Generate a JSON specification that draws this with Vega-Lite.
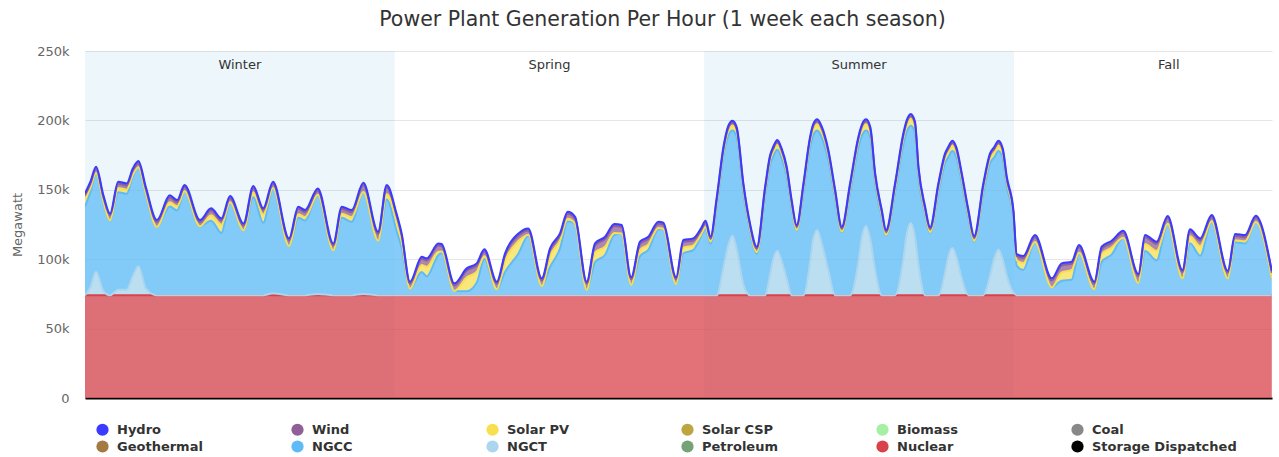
{
  "$schema": "https://vega.github.io/schema/vega-lite/v6.json",
  "width": 1187,
  "height": 347,
  "autosize": {"type": "none"},
  "padding": {"left": 85, "top": 51, "right": 7, "bottom": 59},
  "background": "white",
  "config": {"view": {"stroke": null}, "font": "DejaVu Sans"},
  "title": {"text": "Power Plant Generation Per Hour (1 week each season)", "fontSize": 20.5, "font": "DejaVu Sans", "fontWeight": "normal", "color": "#333333", "anchor": "middle", "frame": "group", "offset": 15, "dx": -16},
  "datasets": {
    "order": [
      {"series": "Nuclear", "rank": 1},
      {"series": "NGCT", "rank": 2},
      {"series": "NGCC", "rank": 3},
      {"series": "Solar PV", "rank": 4},
      {"series": "Wind", "rank": 5},
      {"series": "Hydro", "rank": 6}
    ],
    "seasons": [
      {"season": "Winter", "start": 0, "end": 168, "mid": 84, "shade": 1},
      {"season": "Spring", "start": 168, "end": 336, "mid": 252, "shade": 0},
      {"season": "Summer", "start": 336, "end": 504, "mid": 420, "shade": 1},
      {"season": "Fall", "start": 504, "end": 672, "mid": 588, "shade": 0}
    ],
    "gen": [
      {"h": 0, "Nuclear": 74000, "NGCT": 0, "NGCC": 64000, "Solar PV": 5000, "Wind": 3000, "Hydro": 1500},
      {"h": 3, "Nuclear": 74000, "NGCT": 6000, "NGCC": 68500, "Solar PV": 3000, "Wind": 3000, "Hydro": 1500},
      {"h": 6, "Nuclear": 74000, "NGCT": 17000, "NGCC": 70600, "Solar PV": 500, "Wind": 3000, "Hydro": 1500},
      {"h": 10, "Nuclear": 74000, "NGCT": 3000, "NGCC": 64500, "Solar PV": 0, "Wind": 3000, "Hydro": 1500},
      {"h": 13.6, "Nuclear": 74000, "NGCT": 0, "NGCC": 54000, "Solar PV": 0, "Wind": 3500, "Hydro": 1500},
      {"h": 18, "Nuclear": 74000, "NGCT": 4000, "NGCC": 70300, "Solar PV": 3000, "Wind": 3000, "Hydro": 1500},
      {"h": 22.6, "Nuclear": 74000, "NGCT": 4000, "NGCC": 69100, "Solar PV": 3000, "Wind": 3000, "Hydro": 1500},
      {"h": 26, "Nuclear": 74000, "NGCT": 14000, "NGCC": 72000, "Solar PV": 1000, "Wind": 3000, "Hydro": 1500},
      {"h": 29, "Nuclear": 74000, "NGCT": 21000, "NGCC": 71200, "Solar PV": 0, "Wind": 3000, "Hydro": 1500},
      {"h": 33, "Nuclear": 74000, "NGCT": 5000, "NGCC": 68500, "Solar PV": 0, "Wind": 3000, "Hydro": 1500},
      {"h": 39, "Nuclear": 74000, "NGCT": 0, "NGCC": 49200, "Solar PV": 0, "Wind": 3500, "Hydro": 1500},
      {"h": 46, "Nuclear": 74000, "NGCT": 0, "NGCC": 64000, "Solar PV": 3000, "Wind": 3500, "Hydro": 1500},
      {"h": 50, "Nuclear": 74000, "NGCT": 0, "NGCC": 61100, "Solar PV": 3000, "Wind": 3000, "Hydro": 1500},
      {"h": 54, "Nuclear": 74000, "NGCT": 0, "NGCC": 75000, "Solar PV": 0, "Wind": 3000, "Hydro": 1500},
      {"h": 62.4, "Nuclear": 74000, "NGCT": 0, "NGCC": 49700, "Solar PV": 0, "Wind": 3000, "Hydro": 1500},
      {"h": 68.4, "Nuclear": 74000, "NGCT": 0, "NGCC": 53700, "Solar PV": 4000, "Wind": 3500, "Hydro": 1500},
      {"h": 74, "Nuclear": 74000, "NGCT": 0, "NGCC": 44900, "Solar PV": 6000, "Wind": 3000, "Hydro": 1500},
      {"h": 78.7, "Nuclear": 74000, "NGCT": 0, "NGCC": 67000, "Solar PV": 0, "Wind": 3000, "Hydro": 1500},
      {"h": 86, "Nuclear": 74000, "NGCT": 0, "NGCC": 46800, "Solar PV": 0, "Wind": 3500, "Hydro": 1500},
      {"h": 91.3, "Nuclear": 74000, "NGCT": 0, "NGCC": 70700, "Solar PV": 3500, "Wind": 3000, "Hydro": 1500},
      {"h": 96.7, "Nuclear": 74000, "NGCT": 0, "NGCC": 52200, "Solar PV": 6000, "Wind": 3000, "Hydro": 1500},
      {"h": 102, "Nuclear": 74000, "NGCT": 1500, "NGCC": 75800, "Solar PV": 0, "Wind": 3000, "Hydro": 1500},
      {"h": 110.7, "Nuclear": 74000, "NGCT": 0, "NGCC": 35500, "Solar PV": 0, "Wind": 4000, "Hydro": 1500},
      {"h": 115.7, "Nuclear": 74000, "NGCT": 0, "NGCC": 55800, "Solar PV": 2500, "Wind": 4000, "Hydro": 1500},
      {"h": 119.4, "Nuclear": 74000, "NGCT": 0, "NGCC": 53900, "Solar PV": 2500, "Wind": 3500, "Hydro": 1500},
      {"h": 126.3, "Nuclear": 74000, "NGCT": 1000, "NGCC": 71500, "Solar PV": 0, "Wind": 3000, "Hydro": 1500},
      {"h": 134.7, "Nuclear": 74000, "NGCT": 0, "NGCC": 32400, "Solar PV": 0, "Wind": 3500, "Hydro": 1500},
      {"h": 139.3, "Nuclear": 74000, "NGCT": 0, "NGCC": 55800, "Solar PV": 3000, "Wind": 3500, "Hydro": 1500},
      {"h": 144.7, "Nuclear": 74000, "NGCT": 0, "NGCC": 52900, "Solar PV": 3500, "Wind": 3500, "Hydro": 1500},
      {"h": 151, "Nuclear": 74000, "NGCT": 1000, "NGCC": 73500, "Solar PV": 0, "Wind": 5000, "Hydro": 1500},
      {"h": 159, "Nuclear": 74000, "NGCT": 0, "NGCC": 39300, "Solar PV": 0, "Wind": 5000, "Hydro": 1500},
      {"h": 163.7, "Nuclear": 74000, "NGCT": 0, "NGCC": 69000, "Solar PV": 4000, "Wind": 5000, "Hydro": 1500},
      {"h": 169, "Nuclear": 74000, "NGCT": 0, "NGCC": 46500, "Solar PV": 7000, "Wind": 4000, "Hydro": 1500},
      {"h": 171.8, "Nuclear": 74000, "NGCT": 0, "NGCC": 34100, "Solar PV": 5000, "Wind": 4000, "Hydro": 1500},
      {"h": 176.3, "Nuclear": 74000, "NGCT": 0, "NGCC": 4800, "Solar PV": 0, "Wind": 3500, "Hydro": 1500},
      {"h": 182.7, "Nuclear": 74000, "NGCT": 0, "NGCC": 16800, "Solar PV": 5000, "Wind": 4500, "Hydro": 1500},
      {"h": 185.4, "Nuclear": 74000, "NGCT": 0, "NGCC": 13600, "Solar PV": 7000, "Wind": 4500, "Hydro": 1500},
      {"h": 191.7, "Nuclear": 74000, "NGCT": 0, "NGCC": 28900, "Solar PV": 2500, "Wind": 4500, "Hydro": 1500},
      {"h": 193.5, "Nuclear": 74000, "NGCT": 0, "NGCC": 30500, "Solar PV": 1000, "Wind": 4000, "Hydro": 1500},
      {"h": 200.4, "Nuclear": 74000, "NGCT": 0, "NGCC": 3100, "Solar PV": 0, "Wind": 4000, "Hydro": 1500},
      {"h": 207.1, "Nuclear": 74000, "NGCT": 0, "NGCC": 2900, "Solar PV": 10000, "Wind": 5000, "Hydro": 1500},
      {"h": 212.5, "Nuclear": 74000, "NGCT": 0, "NGCC": 9000, "Solar PV": 8000, "Wind": 4500, "Hydro": 1500},
      {"h": 216.7, "Nuclear": 74000, "NGCT": 0, "NGCC": 26100, "Solar PV": 2000, "Wind": 3500, "Hydro": 1500},
      {"h": 223.4, "Nuclear": 74000, "NGCT": 0, "NGCC": 4300, "Solar PV": 0, "Wind": 4000, "Hydro": 1500},
      {"h": 227.9, "Nuclear": 74000, "NGCT": 0, "NGCC": 16700, "Solar PV": 8000, "Wind": 4000, "Hydro": 1500},
      {"h": 235.2, "Nuclear": 74000, "NGCT": 0, "NGCC": 30100, "Solar PV": 9000, "Wind": 4000, "Hydro": 1500},
      {"h": 240.5, "Nuclear": 74000, "NGCT": 0, "NGCC": 42700, "Solar PV": 1000, "Wind": 3000, "Hydro": 1500},
      {"h": 247.8, "Nuclear": 74000, "NGCT": 0, "NGCC": 6700, "Solar PV": 0, "Wind": 4000, "Hydro": 1500},
      {"h": 252.3, "Nuclear": 74000, "NGCT": 0, "NGCC": 20300, "Solar PV": 8000, "Wind": 4000, "Hydro": 1500},
      {"h": 257.7, "Nuclear": 74000, "NGCT": 0, "NGCC": 33600, "Solar PV": 6000, "Wind": 3500, "Hydro": 1500},
      {"h": 261.9, "Nuclear": 74000, "NGCT": 0, "NGCC": 53200, "Solar PV": 2000, "Wind": 3500, "Hydro": 1500},
      {"h": 265.9, "Nuclear": 74000, "NGCT": 0, "NGCC": 51600, "Solar PV": 0, "Wind": 3500, "Hydro": 1500},
      {"h": 272.2, "Nuclear": 74000, "NGCT": 0, "NGCC": 3800, "Solar PV": 0, "Wind": 4500, "Hydro": 1500},
      {"h": 276.7, "Nuclear": 74000, "NGCT": 0, "NGCC": 23900, "Solar PV": 7000, "Wind": 5000, "Hydro": 1500},
      {"h": 282.2, "Nuclear": 74000, "NGCT": 0, "NGCC": 29200, "Solar PV": 6000, "Wind": 5500, "Hydro": 1500},
      {"h": 287.2, "Nuclear": 74000, "NGCT": 0, "NGCC": 43400, "Solar PV": 1500, "Wind": 5000, "Hydro": 1500},
      {"h": 291.2, "Nuclear": 74000, "NGCT": 0, "NGCC": 44600, "Solar PV": 0, "Wind": 4500, "Hydro": 1500},
      {"h": 296.3, "Nuclear": 74000, "NGCT": 0, "NGCC": 7500, "Solar PV": 0, "Wind": 4000, "Hydro": 1500},
      {"h": 301.1, "Nuclear": 74000, "NGCT": 0, "NGCC": 28100, "Solar PV": 4500, "Wind": 4500, "Hydro": 1500},
      {"h": 305.6, "Nuclear": 74000, "NGCT": 0, "NGCC": 32700, "Solar PV": 4000, "Wind": 4000, "Hydro": 1500},
      {"h": 311.1, "Nuclear": 74000, "NGCT": 0, "NGCC": 47500, "Solar PV": 1000, "Wind": 3000, "Hydro": 1500},
      {"h": 313.8, "Nuclear": 74000, "NGCT": 0, "NGCC": 47800, "Solar PV": 0, "Wind": 3000, "Hydro": 1500},
      {"h": 320.7, "Nuclear": 74000, "NGCT": 0, "NGCC": 8000, "Solar PV": 0, "Wind": 3500, "Hydro": 1500},
      {"h": 324.6, "Nuclear": 74000, "NGCT": 0, "NGCC": 30300, "Solar PV": 4000, "Wind": 4000, "Hydro": 1500},
      {"h": 330, "Nuclear": 74000, "NGCT": 0, "NGCC": 32500, "Solar PV": 3500, "Wind": 3500, "Hydro": 1500},
      {"h": 334.2, "Nuclear": 74000, "NGCT": 0, "NGCC": 42200, "Solar PV": 1500, "Wind": 3000, "Hydro": 1500},
      {"h": 336.7, "Nuclear": 74000, "NGCT": 0, "NGCC": 47700, "Solar PV": 1500, "Wind": 3000, "Hydro": 1500},
      {"h": 339.4, "Nuclear": 74000, "NGCT": 0, "NGCC": 37200, "Solar PV": 1500, "Wind": 2000, "Hydro": 1500},
      {"h": 342.8, "Nuclear": 74000, "NGCT": 0, "NGCC": 65000, "Solar PV": 2500, "Wind": 2000, "Hydro": 1500},
      {"h": 346.4, "Nuclear": 74000, "NGCT": 20000, "NGCC": 80500, "Solar PV": 3000, "Wind": 2000, "Hydro": 1500},
      {"h": 349, "Nuclear": 74000, "NGCT": 36000, "NGCC": 79000, "Solar PV": 3500, "Wind": 2000, "Hydro": 1500},
      {"h": 351.3, "Nuclear": 74000, "NGCT": 43000, "NGCC": 75800, "Solar PV": 3500, "Wind": 2000, "Hydro": 1500},
      {"h": 353.6, "Nuclear": 74000, "NGCT": 33000, "NGCC": 81000, "Solar PV": 3500, "Wind": 2000, "Hydro": 1500},
      {"h": 357.2, "Nuclear": 74000, "NGCT": 8000, "NGCC": 66200, "Solar PV": 3000, "Wind": 2000, "Hydro": 1500},
      {"h": 360.8, "Nuclear": 74000, "NGCT": 0, "NGCC": 46800, "Solar PV": 1500, "Wind": 2000, "Hydro": 1500},
      {"h": 364.5, "Nuclear": 74000, "NGCT": 0, "NGCC": 30000, "Solar PV": 1000, "Wind": 2500, "Hydro": 1500},
      {"h": 369, "Nuclear": 74000, "NGCT": 0, "NGCC": 71700, "Solar PV": 3000, "Wind": 2000, "Hydro": 1500},
      {"h": 371.7, "Nuclear": 74000, "NGCT": 15000, "NGCC": 79000, "Solar PV": 3500, "Wind": 2000, "Hydro": 1500},
      {"h": 373.4, "Nuclear": 74000, "NGCT": 26000, "NGCC": 74000, "Solar PV": 3500, "Wind": 2000, "Hydro": 1500},
      {"h": 375.6, "Nuclear": 74000, "NGCT": 32000, "NGCC": 72900, "Solar PV": 3500, "Wind": 2000, "Hydro": 1500},
      {"h": 377.9, "Nuclear": 74000, "NGCT": 25000, "NGCC": 74000, "Solar PV": 3500, "Wind": 2000, "Hydro": 1500},
      {"h": 380.7, "Nuclear": 74000, "NGCT": 12000, "NGCC": 74100, "Solar PV": 3000, "Wind": 2000, "Hydro": 1500},
      {"h": 383.4, "Nuclear": 74000, "NGCT": 0, "NGCC": 63100, "Solar PV": 2000, "Wind": 2000, "Hydro": 1500},
      {"h": 386.1, "Nuclear": 74000, "NGCT": 0, "NGCC": 46600, "Solar PV": 500, "Wind": 2000, "Hydro": 1500},
      {"h": 389.8, "Nuclear": 74000, "NGCT": 0, "NGCC": 74200, "Solar PV": 3000, "Wind": 2000, "Hydro": 1500},
      {"h": 393.4, "Nuclear": 74000, "NGCT": 24000, "NGCC": 82800, "Solar PV": 4000, "Wind": 2000, "Hydro": 1500},
      {"h": 395, "Nuclear": 74000, "NGCT": 40000, "NGCC": 75000, "Solar PV": 4500, "Wind": 2000, "Hydro": 1500},
      {"h": 397.3, "Nuclear": 74000, "NGCT": 47000, "NGCC": 71800, "Solar PV": 4500, "Wind": 2000, "Hydro": 1500},
      {"h": 399.6, "Nuclear": 74000, "NGCT": 38000, "NGCC": 76000, "Solar PV": 4500, "Wind": 2000, "Hydro": 1500},
      {"h": 403.3, "Nuclear": 74000, "NGCT": 18000, "NGCC": 79700, "Solar PV": 3500, "Wind": 2000, "Hydro": 1500},
      {"h": 407, "Nuclear": 74000, "NGCT": 0, "NGCC": 69900, "Solar PV": 2500, "Wind": 2000, "Hydro": 1500},
      {"h": 410.6, "Nuclear": 74000, "NGCT": 0, "NGCC": 45400, "Solar PV": 500, "Wind": 2000, "Hydro": 1500},
      {"h": 415.1, "Nuclear": 74000, "NGCT": 0, "NGCC": 74200, "Solar PV": 3000, "Wind": 2000, "Hydro": 1500},
      {"h": 419.6, "Nuclear": 74000, "NGCT": 24000, "NGCC": 82800, "Solar PV": 4000, "Wind": 2000, "Hydro": 1500},
      {"h": 421.5, "Nuclear": 74000, "NGCT": 42000, "NGCC": 73000, "Solar PV": 4500, "Wind": 2000, "Hydro": 1500},
      {"h": 423.8, "Nuclear": 74000, "NGCT": 50000, "NGCC": 68800, "Solar PV": 4500, "Wind": 2000, "Hydro": 1500},
      {"h": 426.1, "Nuclear": 74000, "NGCT": 40000, "NGCC": 73500, "Solar PV": 4000, "Wind": 2000, "Hydro": 1500},
      {"h": 428.7, "Nuclear": 74000, "NGCT": 18000, "NGCC": 62800, "Solar PV": 3500, "Wind": 2000, "Hydro": 1500},
      {"h": 432.3, "Nuclear": 74000, "NGCT": 0, "NGCC": 55900, "Solar PV": 2000, "Wind": 2000, "Hydro": 1500},
      {"h": 434.6, "Nuclear": 74000, "NGCT": 0, "NGCC": 43000, "Solar PV": 500, "Wind": 2000, "Hydro": 1500},
      {"h": 439.5, "Nuclear": 74000, "NGCT": 0, "NGCC": 74200, "Solar PV": 3000, "Wind": 2000, "Hydro": 1500},
      {"h": 444, "Nuclear": 74000, "NGCT": 26000, "NGCC": 82700, "Solar PV": 4500, "Wind": 2000, "Hydro": 1500},
      {"h": 445.8, "Nuclear": 74000, "NGCT": 44000, "NGCC": 73500, "Solar PV": 5000, "Wind": 2000, "Hydro": 1500},
      {"h": 448, "Nuclear": 74000, "NGCT": 52000, "NGCC": 70100, "Solar PV": 5000, "Wind": 2000, "Hydro": 1500},
      {"h": 450.3, "Nuclear": 74000, "NGCT": 42000, "NGCC": 75000, "Solar PV": 4500, "Wind": 2000, "Hydro": 1500},
      {"h": 452.2, "Nuclear": 74000, "NGCT": 22000, "NGCC": 63600, "Solar PV": 3500, "Wind": 2000, "Hydro": 1500},
      {"h": 455.8, "Nuclear": 74000, "NGCT": 0, "NGCC": 58300, "Solar PV": 2000, "Wind": 2000, "Hydro": 1500},
      {"h": 458.5, "Nuclear": 74000, "NGCT": 0, "NGCC": 45000, "Solar PV": 500, "Wind": 2000, "Hydro": 1500},
      {"h": 463, "Nuclear": 74000, "NGCT": 0, "NGCC": 74200, "Solar PV": 3000, "Wind": 2000, "Hydro": 1500},
      {"h": 466.6, "Nuclear": 74000, "NGCT": 16000, "NGCC": 79200, "Solar PV": 3500, "Wind": 2000, "Hydro": 1500},
      {"h": 468.4, "Nuclear": 74000, "NGCT": 28000, "NGCC": 71500, "Solar PV": 4000, "Wind": 2000, "Hydro": 1500},
      {"h": 470.6, "Nuclear": 74000, "NGCT": 34000, "NGCC": 69900, "Solar PV": 4000, "Wind": 2000, "Hydro": 1500},
      {"h": 472.9, "Nuclear": 74000, "NGCT": 27000, "NGCC": 72000, "Solar PV": 3500, "Wind": 2000, "Hydro": 1500},
      {"h": 475.7, "Nuclear": 74000, "NGCT": 12000, "NGCC": 69300, "Solar PV": 3000, "Wind": 2000, "Hydro": 1500},
      {"h": 479.3, "Nuclear": 74000, "NGCT": 0, "NGCC": 55900, "Solar PV": 2000, "Wind": 2000, "Hydro": 1500},
      {"h": 482.4, "Nuclear": 74000, "NGCT": 0, "NGCC": 38700, "Solar PV": 500, "Wind": 2000, "Hydro": 1500},
      {"h": 487.4, "Nuclear": 74000, "NGCT": 0, "NGCC": 74200, "Solar PV": 3000, "Wind": 2000, "Hydro": 1500},
      {"h": 491, "Nuclear": 74000, "NGCT": 14000, "NGCC": 81200, "Solar PV": 3500, "Wind": 2000, "Hydro": 1500},
      {"h": 493.4, "Nuclear": 74000, "NGCT": 27000, "NGCC": 72500, "Solar PV": 4000, "Wind": 2000, "Hydro": 1500},
      {"h": 495.6, "Nuclear": 74000, "NGCT": 33000, "NGCC": 70900, "Solar PV": 4000, "Wind": 2000, "Hydro": 1500},
      {"h": 497.9, "Nuclear": 74000, "NGCT": 26000, "NGCC": 73000, "Solar PV": 3500, "Wind": 2000, "Hydro": 1500},
      {"h": 500.1, "Nuclear": 74000, "NGCT": 14000, "NGCC": 64900, "Solar PV": 3000, "Wind": 2000, "Hydro": 1500},
      {"h": 503.7, "Nuclear": 74000, "NGCT": 2000, "NGCC": 53900, "Solar PV": 2000, "Wind": 2000, "Hydro": 1500},
      {"h": 505.5, "Nuclear": 74000, "NGCT": 0, "NGCC": 21200, "Solar PV": 4000, "Wind": 3000, "Hydro": 1500},
      {"h": 509, "Nuclear": 74000, "NGCT": 0, "NGCC": 18300, "Solar PV": 5000, "Wind": 3500, "Hydro": 1500},
      {"h": 515.4, "Nuclear": 74000, "NGCT": 0, "NGCC": 38400, "Solar PV": 0, "Wind": 3500, "Hydro": 1500},
      {"h": 524.5, "Nuclear": 74000, "NGCT": 0, "NGCC": 5700, "Solar PV": 0, "Wind": 5000, "Hydro": 1500},
      {"h": 529.9, "Nuclear": 74000, "NGCT": 0, "NGCC": 10500, "Solar PV": 6000, "Wind": 5000, "Hydro": 1500},
      {"h": 535.3, "Nuclear": 74000, "NGCT": 0, "NGCC": 11200, "Solar PV": 7000, "Wind": 4500, "Hydro": 1500},
      {"h": 539.3, "Nuclear": 74000, "NGCT": 0, "NGCC": 30700, "Solar PV": 0, "Wind": 4000, "Hydro": 1500},
      {"h": 547.6, "Nuclear": 74000, "NGCT": 0, "NGCC": 4300, "Solar PV": 0, "Wind": 4000, "Hydro": 1500},
      {"h": 551.6, "Nuclear": 74000, "NGCT": 0, "NGCC": 24000, "Solar PV": 6000, "Wind": 3500, "Hydro": 1500},
      {"h": 557, "Nuclear": 74000, "NGCT": 0, "NGCC": 29300, "Solar PV": 5000, "Wind": 3500, "Hydro": 1500},
      {"h": 563.3, "Nuclear": 74000, "NGCT": 0, "NGCC": 41500, "Solar PV": 0, "Wind": 3500, "Hydro": 1500},
      {"h": 571.5, "Nuclear": 74000, "NGCT": 0, "NGCC": 8800, "Solar PV": 0, "Wind": 5000, "Hydro": 1500},
      {"h": 575.1, "Nuclear": 74000, "NGCT": 0, "NGCC": 31900, "Solar PV": 5000, "Wind": 5000, "Hydro": 1500},
      {"h": 581.4, "Nuclear": 74000, "NGCT": 0, "NGCC": 25100, "Solar PV": 7000, "Wind": 5000, "Hydro": 1500},
      {"h": 587.4, "Nuclear": 74000, "NGCT": 0, "NGCC": 51600, "Solar PV": 0, "Wind": 4000, "Hydro": 1500},
      {"h": 595.4, "Nuclear": 74000, "NGCT": 0, "NGCC": 12200, "Solar PV": 0, "Wind": 4500, "Hydro": 1500},
      {"h": 599.5, "Nuclear": 74000, "NGCT": 0, "NGCC": 37500, "Solar PV": 5000, "Wind": 3500, "Hydro": 1500},
      {"h": 605, "Nuclear": 74000, "NGCT": 0, "NGCC": 28500, "Solar PV": 7000, "Wind": 4000, "Hydro": 1500},
      {"h": 611.3, "Nuclear": 74000, "NGCT": 0, "NGCC": 53300, "Solar PV": 0, "Wind": 3000, "Hydro": 1500},
      {"h": 620, "Nuclear": 74000, "NGCT": 0, "NGCC": 12200, "Solar PV": 0, "Wind": 4000, "Hydro": 1500},
      {"h": 624, "Nuclear": 74000, "NGCT": 0, "NGCC": 38200, "Solar PV": 1500, "Wind": 3000, "Hydro": 1500},
      {"h": 629.4, "Nuclear": 74000, "NGCT": 0, "NGCC": 37400, "Solar PV": 1500, "Wind": 3000, "Hydro": 1500},
      {"h": 635.2, "Nuclear": 74000, "NGCT": 0, "NGCC": 52800, "Solar PV": 0, "Wind": 3000, "Hydro": 1500},
      {"h": 643.9, "Nuclear": 74000, "NGCT": 0, "NGCC": 12200, "Solar PV": 0, "Wind": 4000, "Hydro": 1500}
    ]
  },
  "layer": [
    {
      "data": {"name": "seasons"},
      "transform": [{"filter": "datum.shade == 1"}],
      "mark": {"type": "rect", "fill": "#44aad5", "fillOpacity": 0.1, "clip": true},
      "encoding": {
        "x": {"field": "start", "type": "quantitative", "scale": {"domain": [0, 644], "nice": false, "zero": false}, "axis": {"labels": false, "ticks": false, "grid": false, "title": null, "domainColor": "#000000", "domainWidth": 2}},
        "x2": {"field": "end"}
      }
    },
    {
      "data": {"name": "gen"},
      "transform": [
        {"fold": ["Nuclear", "NGCT", "NGCC", "Solar PV", "Wind", "Hydro"], "as": ["series", "mw"]},
        {"lookup": "series", "from": {"data": {"name": "order"}, "key": "series", "fields": ["rank"]}}
      ],
      "mark": {"type": "area", "interpolate": "monotone", "fillOpacity": 0.75, "clip": true, "line": {"strokeWidth": 2}},
      "encoding": {
        "x": {"field": "h", "type": "quantitative", "scale": {"domain": [0, 644], "nice": false, "zero": false}, "axis": {"labels": false, "ticks": false, "grid": false, "title": null, "domainColor": "#000000", "domainWidth": 2}},
        "y": {"field": "mw", "type": "quantitative", "stack": "zero", "scale": {"domain": [0, 250000], "nice": false}, "axis": {"title": "Megawatt", "titleFont": "DejaVu Sans", "titleFontSize": 13, "titleFontWeight": "normal", "titleColor": "#666666", "titlePadding": 12, "labelFont": "DejaVu Sans", "labelFontSize": 13, "labelColor": "#666666", "labelPadding": 16, "ticks": false, "tickSize": 0, "domain": false, "gridColor": "#e6e6e6", "values": [0, 50000, 100000, 150000, 200000, 250000], "labelExpr": "datum.value == 0 ? '0' : (datum.value / 1000) + 'k'"}},
        "color": {"field": "series", "type": "nominal",
          "scale": {"domain": ["Hydro", "Wind", "Solar PV", "Solar CSP", "Biomass", "Coal", "Geothermal", "NGCC", "NGCT", "Petroleum", "Nuclear", "Storage Dispatched"],
                    "range": ["#3b3bff", "#905f98", "#f8df4f", "#bda540", "#a5f0a5", "#888888", "#a57944", "#5fbbf5", "#acd5ee", "#76a277", "#d8434b", "#000000"]},
          "legend": {"orient": "none", "legendX": 11, "legendY": 372, "direction": "horizontal", "columns": 6, "title": null, "symbolType": "circle", "symbolSize": 150, "symbolOpacity": 1, "symbolStrokeWidth": 0, "labelFont": "DejaVu Sans", "labelFontSize": 13, "labelFontWeight": "bold", "labelColor": "#333333", "labelOffset": 8, "gridAlign": "all", "columnPadding": 29, "rowPadding": 3}},
        "order": {"field": "rank", "type": "quantitative"}
      }
    },
    {
      "data": {"name": "seasons"},
      "mark": {"type": "text", "font": "DejaVu Sans", "fontSize": 13, "color": "#333333", "baseline": "middle", "align": "center"},
      "encoding": {
        "x": {"field": "mid", "type": "quantitative", "scale": {"domain": [0, 644], "nice": false, "zero": false}, "axis": {"labels": false, "ticks": false, "grid": false, "title": null, "domainColor": "#000000", "domainWidth": 2}},
        "y": {"datum": 240000, "type": "quantitative"},
        "text": {"field": "season"}
      }
    }
  ]
}
